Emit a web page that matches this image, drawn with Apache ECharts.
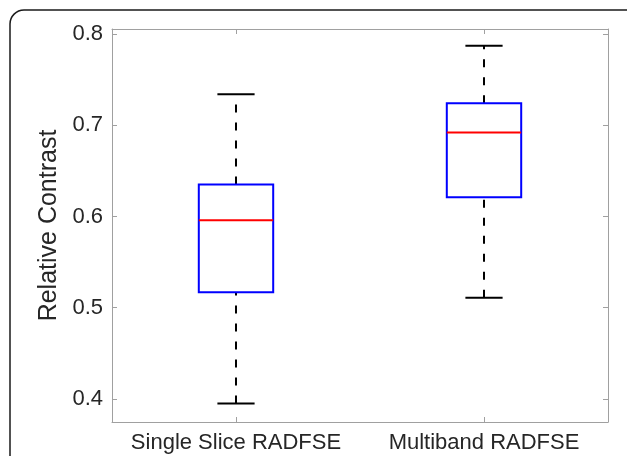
<!DOCTYPE html>
<html>
<head>
<meta charset="utf-8">
<script src="https://cdn.jsdelivr.net/npm/echarts@6/dist/echarts.min.js"></script>
<style>
html,body{margin:0;padding:0;background:#fff;}
#chart{width:627px;height:456px;}
</style>
</head>
<body>
<div id="chart"></div>
<script>
const categories = ['Single Slice RADFSE', 'Multiband RADFSE'];
const lowerWhisker = [0.395, 0.511];
const q1 = [0.517, 0.621];
const median = [0.596, 0.692];
const q3 = [0.635, 0.724];
const upperWhisker = [0.734, 0.787];
const yTicks = [0.4, 0.5, 0.6, 0.7, 0.8];

const data = categories.map((c, i) => [i, lowerWhisker[i], q1[i], median[i], q3[i], upperWhisker[i]]);

const FONT = '"Liberation Sans", Arial, Helvetica, sans-serif';
const AXIS_COLOR = '#a0a0a0';
const TEXT_COLOR = '#262626';
const yMin = 0.37479, yMax = 0.80548;

const chart = echarts.init(document.getElementById('chart'), null, {renderer: 'canvas'});

function valueAxis(pos, showLabels) {
  return {
    type: 'value', position: pos, min: yMin, max: yMax,
    name: showLabels ? 'Relative Contrast' : '',
    nameLocation: 'middle', nameGap: 48,
    nameTextStyle: {fontFamily: FONT, fontSize: 25, color: TEXT_COLOR},
    axisLine: {show: true, lineStyle: {color: AXIS_COLOR, width: 1}},
    axisTick: {show: true, inside: true, length: 5, customValues: yTicks, lineStyle: {color: AXIS_COLOR}},
    axisLabel: {show: showLabels, customValues: yTicks, margin: 9, fontFamily: FONT, fontSize: 22, color: TEXT_COLOR,
      formatter: v => v.toFixed(1)},
    splitLine: {show: false}
  };
}
function catAxis(pos, showLabels) {
  return {
    type: 'category', position: pos, data: categories, boundaryGap: true,
    axisLine: {show: true, lineStyle: {color: AXIS_COLOR, width: 1}},
    axisTick: {show: true, inside: true, length: 5, alignWithLabel: true, interval: 0, lineStyle: {color: AXIS_COLOR}},
    axisLabel: {show: showLabels, interval: 0, hideOverlap: false, margin: 10, fontFamily: FONT, fontSize: 22, color: TEXT_COLOR},
    splitLine: {show: false}
  };
}

chart.setOption({
  animation: false,
  backgroundColor: '#fff',
  grid: {left: 112, right: 19, top: 29, bottom: 34, containLabel: false},
  xAxis: [catAxis('bottom', true), catAxis('top', false)],
  yAxis: [valueAxis('left', true), valueAxis('right', false)],
  graphic: [{
    type: 'rect', silent: true, z: -1,
    shape: {x: 10, y: 10, width: 660, height: 520, r: 14},
    style: {fill: 'none', stroke: '#1a1a1a', lineWidth: 1.5}
  }],
  series: [{
    type: 'custom',
    data: data,
    encode: {x: 0, y: [1, 2, 3, 4, 5]},
    renderItem: function (params, api) {
      const idx = api.value(0);
      const pMin = api.coord([idx, api.value(1)]);
      const pQ1 = api.coord([idx, api.value(2)]);
      const pMed = api.coord([idx, api.value(3)]);
      const pQ3 = api.coord([idx, api.value(4)]);
      const pMax = api.coord([idx, api.value(5)]);
      const band = api.size([1, 0])[0];
      const bw = band * 0.3;
      const cw = bw * 0.5;
      const cx = pMed[0];
      const dash = {stroke: '#000', lineWidth: 2, lineDash: [8, 10], fill: null};
      const solid = {stroke: '#000', lineWidth: 2, fill: null};
      return {
        type: 'group',
        children: [
          {type: 'line', shape: {x1: cx, y1: pQ3[1], x2: cx, y2: pMax[1]}, style: dash},
          {type: 'line', shape: {x1: cx, y1: pMin[1], x2: cx, y2: pQ1[1]}, style: dash},
          {type: 'line', shape: {x1: cx - cw / 2, y1: pMax[1], x2: cx + cw / 2, y2: pMax[1]}, style: solid},
          {type: 'line', shape: {x1: cx - cw / 2, y1: pMin[1], x2: cx + cw / 2, y2: pMin[1]}, style: solid},
          {type: 'rect', shape: {x: cx - bw / 2, y: pQ3[1], width: bw, height: pQ1[1] - pQ3[1]},
            style: {fill: '#fff', stroke: '#0000ff', lineWidth: 2}},
          {type: 'line', shape: {x1: cx - bw / 2, y1: pMed[1], x2: cx + bw / 2, y2: pMed[1]},
            style: {stroke: '#ff0000', lineWidth: 2}}
        ]
      };
    }
  }]
});
</script>
</body>
</html>
